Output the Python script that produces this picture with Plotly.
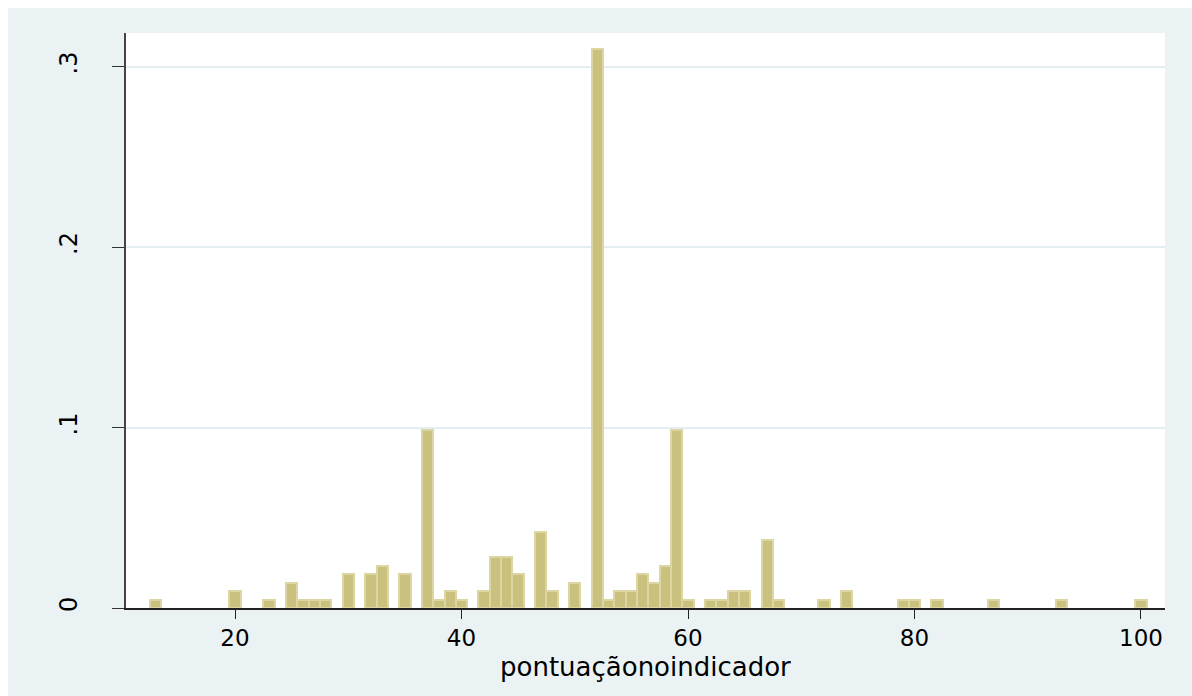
import plotly.graph_objects as go

# Indicator scores (discrete values) and how many observations took each one
scores = [13, 20, 23, 25, 26, 27, 28, 30, 32, 33, 35, 37, 38, 39, 40, 42, 43, 44,
          45, 47, 48, 50, 52, 53, 54, 55, 56, 57, 58, 59, 60, 62, 63, 64, 65, 67,
          68, 72, 74, 79, 80, 82, 87, 93, 100]
counts = [1, 2, 1, 3, 1, 1, 1, 4, 4, 5, 4, 21, 1, 2, 1, 2, 6, 6,
          4, 9, 2, 3, 66, 1, 2, 2, 4, 3, 5, 21, 1, 1, 1, 2, 2, 8,
          1, 1, 2, 1, 1, 1, 1, 1, 1]

x_ticks = [20, 40, 60, 80, 100]
y_ticks = [0, 0.1, 0.2, 0.3]
y_tick_labels = ["0", ".1", ".2", ".3"]
x_title = "pontuaçãonoindicador"

# Density histogram with unit-width bins centred on each score
total = sum(counts)
density = [c / total for c in counts]

BAR_FILL = "#C9C17D"
BAR_EDGE = "#DCD6A2"
REGION_BG = "#EAF2F3"
GRID = "#E4EDEF"
FONT = "DejaVu Sans"

PLOT_W = 1192 - 126 - 27
PLOT_H = 696 - 33 - 88

fig = go.Figure(
    go.Bar(
        x=scores,
        y=density,
        width=1,
        marker=dict(color=BAR_FILL, line=dict(color=BAR_EDGE, width=2)),
        hovertemplate="%{x}: %{y:.4f}<extra></extra>",
    )
)

fig.update_layout(
    width=1192,
    height=696,
    margin=dict(l=126, r=27, t=33, b=88),
    paper_bgcolor=REGION_BG,
    plot_bgcolor="white",
    showlegend=False,
    bargap=0,
    font=dict(family=FONT, color="black"),
    # thin white border strip along the top and left of the graph region
    shapes=[
        dict(type="rect", xref="paper", yref="paper", x0=-0.2, x1=1.1,
             y0=1.0 + 25 / PLOT_H, y1=1.2, fillcolor="white", line_width=0, layer="below"),
        dict(type="rect", xref="paper", yref="paper", x0=-0.2, x1=-118 / PLOT_W,
             y0=-0.2, y1=1.2, fillcolor="white", line_width=0, layer="below"),
    ],
    annotations=[
        dict(text=x_title, xref="paper", yref="paper", x=0.5, y=-59 / PLOT_H,
             xanchor="center", yanchor="middle", showarrow=False,
             font=dict(size=26, family=FONT, color="black")),
    ],
)

fig.update_xaxes(
    range=[10.375, 102.12],
    tickvals=x_ticks,
    ticks="outside",
    ticklen=9,
    tickwidth=1.3,
    tickcolor="#222222",
    tickfont=dict(size=23, family=FONT, color="black"),
    ticklabelstandoff=0,
    showline=True,
    linecolor="#222222",
    linewidth=1.5,
    showgrid=False,
    zeroline=False,
)

fig.update_yaxes(
    range=[0, 0.3186],
    tickvals=y_ticks,
    ticktext=y_tick_labels,
    tickangle=-90,
    ticks="outside",
    ticklen=12,
    tickwidth=1.3,
    tickcolor="#333333",
    tickfont=dict(size=24, family=FONT, color="black"),
    ticklabelstandoff=26,
    showline=True,
    linecolor="#444444",
    linewidth=1.5,
    showgrid=True,
    gridcolor=GRID,
    gridwidth=1.5,
    zeroline=False,
)

fig.write_html("out.html")
